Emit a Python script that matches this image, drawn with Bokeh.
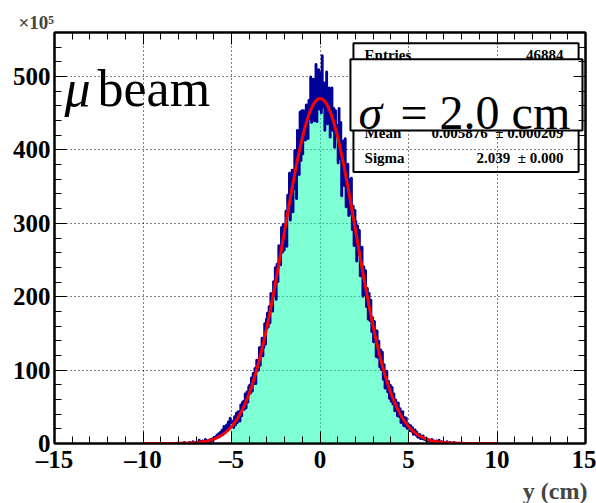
import numpy as np
from bokeh.plotting import figure
from bokeh.models import FixedTicker, LinearAxis, Title
from bokeh.core.properties import value
from bokeh.embed import file_html
from bokeh.resources import INLINE

# ---------------- data ----------------
bin_lo = -8.0
bin_width = 0.05
# counts from 0 outward to -8 (reversed below)
counts_neg_outward = [
    455, 510, 474, 438, 517, 476, 439, 497, 460, 437, 500, 442, 468, 415, 456, 462, 413, 439, 454, 394,
    454, 385, 452, 366, 409, 427, 333, 383, 400, 346, 315, 373, 358, 304, 369, 314, 339, 268, 317, 278,
    263, 299, 260, 295, 243, 262, 270, 220, 245, 196, 240, 202, 221, 180, 201, 205, 164, 187, 158, 178,
    170, 135, 164, 130, 119, 144, 132, 106, 131, 99, 112, 114, 81, 103, 81, 96, 71, 90, 68, 80,
    78, 56, 71, 48, 68, 46, 58, 57, 37, 53, 30, 44, 44, 28, 42, 25, 37, 21, 31, 29,
    28, 35, 22, 30, 18, 26, 20, 15, 24, 12, 19, 11, 16, 9, 14, 8, 12, 10, 6, 9,
    4, 7, 3, 6, 2, 5, 3, 4, 1, 6, 2, 3, 4, 1, 3, 2, 5, 1, 2, 0,
    2, 0, 1, 3, 0, 1, 0, 2, 1, 0, 0, 1, 0, 2, 0, 0, 1, 0, 0, 0,
]
# counts from 0 outward to +8
counts_pos = [
    505, 450, 529, 458, 492, 426, 479, 507, 435, 462, 485, 417, 458, 485, 426, 457, 403, 454, 419, 434,
    382, 457, 388, 438, 337, 403, 413, 351, 416, 322, 363, 381, 310, 360, 313, 362, 291, 324, 269, 318,
    303, 248, 297, 258, 291, 228, 254, 268, 200, 241, 202, 236, 186, 212, 169, 205, 167, 196, 152, 172,
    138, 167, 155, 118, 154, 117, 140, 104, 128, 100, 125, 87, 108, 75, 99, 99, 70, 85, 61, 80,
    57, 77, 53, 68, 44, 60, 56, 37, 56, 36, 48, 28, 41, 44, 24, 36, 23, 35, 20, 27,
    26, 17, 25, 16, 22, 12, 18, 19, 11, 16, 8, 13, 13, 6, 11, 6, 11, 5, 8, 4,
    7, 3, 6, 4, 2, 5, 6, 2, 4, 3, 1, 4, 2, 3, 5, 1, 2, 3, 0, 2,
    1, 2, 0, 3, 1, 0, 2, 1, 0, 1, 0, 2, 0, 1, 0, 0, 1, 0, 0, 1,
]
fit_constant = 470.0
fit_mean = 0.005876
fit_sigma = 2.039
fit_range = (-10.0, 10.0)
fill_range = (-5.0, 5.0)

x_ticks = [-15, -10, -5, 0, 5, 10, 15]
x_tick_labels = ["\u201315", "\u201310", "\u20135", "0", "5", "10", "15"]
x_minor = [v for v in range(-15, 16) if v % 5 != 0]
y_ticks = [0, 100, 200, 300, 400, 500]
y_minor = [v for v in range(0, 561, 20) if v % 100 != 0]

stats_names = ["Entries", "Mean", "Sigma"]
stats_values = ["46884", "0.005876\u00a0\u00a0\u00b1 0.000209", "2.039\u00a0\u00a0\u00b1 0.000"]

# ---------------- figure ----------------
SERIF = "Liberation Serif"
p = figure(width=596, height=503, x_range=(-15, 15), y_range=(0, 560),
           output_backend="svg", toolbar_location=None,
           min_border_left=54, min_border_right=11, min_border_top=32, min_border_bottom=57)
p.background_fill_color = "white"
p.outline_line_color = "black"
p.outline_line_width = 2

xt = FixedTicker(ticks=x_ticks, minor_ticks=x_minor)
yt = FixedTicker(ticks=y_ticks, minor_ticks=y_minor)

def style_axis(ax, show_labels):
    ax.axis_line_color = "black"
    ax.axis_line_width = 2
    ax.major_tick_in = 12
    ax.major_tick_out = 0
    ax.minor_tick_in = 7
    ax.minor_tick_out = 0
    ax.major_tick_line_width = 1
    ax.minor_tick_line_width = 1
    ax.major_label_text_font = SERIF
    ax.major_label_text_font_style = "bold"
    ax.major_label_text_font_size = "25px"
    ax.major_label_text_color = "black" if show_labels else None

p.xaxis.ticker = xt
p.xaxis.major_label_overrides = {t: l for t, l in zip(x_ticks, x_tick_labels)}
p.yaxis.ticker = yt
style_axis(p.xaxis[0], True)
style_axis(p.yaxis[0], True)
p.xaxis.major_label_standoff = 2
p.yaxis.major_label_standoff = 4

top_ax = LinearAxis(ticker=xt, major_label_overrides={t: "" for t in x_ticks})
style_axis(top_ax, False)
top_ax.major_label_standoff = 0
top_ax.major_label_text_font_size = "1px"
p.add_layout(top_ax, "above")
right_ax = LinearAxis(ticker=yt, major_label_overrides={t: "" for t in y_ticks})
style_axis(right_ax, False)
right_ax.major_label_standoff = 0
right_ax.major_label_text_font_size = "1px"
p.add_layout(right_ax, "right")

p.xgrid.ticker = xt
p.ygrid.ticker = yt
p.grid.grid_line_color = "black"
p.grid.grid_line_dash = "1 3"
p.grid.grid_line_width = 1

# outside-frame texts as titles
p.add_layout(Title(text="\u00d710\u2075", align="left", offset=-36, standoff=0,
                   text_font=SERIF, text_font_style="bold", text_font_size="19px"), "above")
p.add_layout(Title(text="y (cm)", align="right", offset=-2, standoff=0,
                   text_font=SERIF, text_font_style="bold", text_font_size="24px"), "below")

# ---------------- glyphs ----------------
counts = list(reversed(counts_neg_outward)) + counts_pos
n = len(counts)
edges = bin_lo + bin_width * np.arange(n + 1)
step_x = list(edges)
step_y = counts + [counts[-1]]

xf = np.linspace(fill_range[0], fill_range[1], 400)
yf = fit_constant * np.exp(-0.5 * ((xf - fit_mean) / fit_sigma) ** 2)
p.varea(x=xf, y1=0, y2=yf, fill_color="#00ffaa", fill_alpha=0.5)

p.step(x=step_x, y=step_y, mode="after", line_color="#000099", line_width=2)

xc = np.linspace(fit_range[0], fit_range[1], 800)
yc = fit_constant * np.exp(-0.5 * ((xc - fit_mean) / fit_sigma) ** 2)
p.line(xc, yc, line_color="#ff0000", line_width=3)

# "mu beam"
p.text(x=[-14.43], y=[483.1], text=["\u03bc"], text_font=value(SERIF), text_font_style="italic",
       text_font_size="52px", text_baseline="alphabetic", text_align="left", text_color="black")
p.text(x=[-12.57], y=[483.1], text=["beam"], text_font=value(SERIF),
       text_font_size="52px", text_baseline="alphabetic", text_align="left", text_color="black")

# stats box
row_y = [529.0, 422.4, 388.7]
p.text(x=[2.52] * 3, y=row_y, text=stats_names, text_font=value(SERIF), text_font_style="bold",
       text_font_size="15px", text_baseline="middle", text_align="left", text_color="black")
p.text(x=[13.76] * 3, y=row_y, text=stats_values, text_font=value(SERIF), text_font_style="bold",
       text_font_size="15px", text_baseline="middle", text_align="right", text_color="black")
p.quad(left=[1.89], right=[14.61], bottom=[369.8], top=[545.2], fill_color=None,
       line_color="black", line_width=2)

# sigma box
p.quad(left=[1.72], right=[14.83], bottom=[426.4], top=[523.6], fill_color="white",
       line_color="black", line_width=2)
p.text(x=[2.18], y=[450.7], text=["\u03c3"], text_font=value(SERIF), text_font_style="italic",
       text_font_size="48px", text_baseline="alphabetic", text_align="left", text_color="black")
p.text(x=[4.55], y=[450.7], text=["= 2.0 cm"], text_font=value(SERIF),
       text_font_size="48px", text_baseline="alphabetic", text_align="left", text_color="black")

open("out.html", "w").write(file_html(p, INLINE))
